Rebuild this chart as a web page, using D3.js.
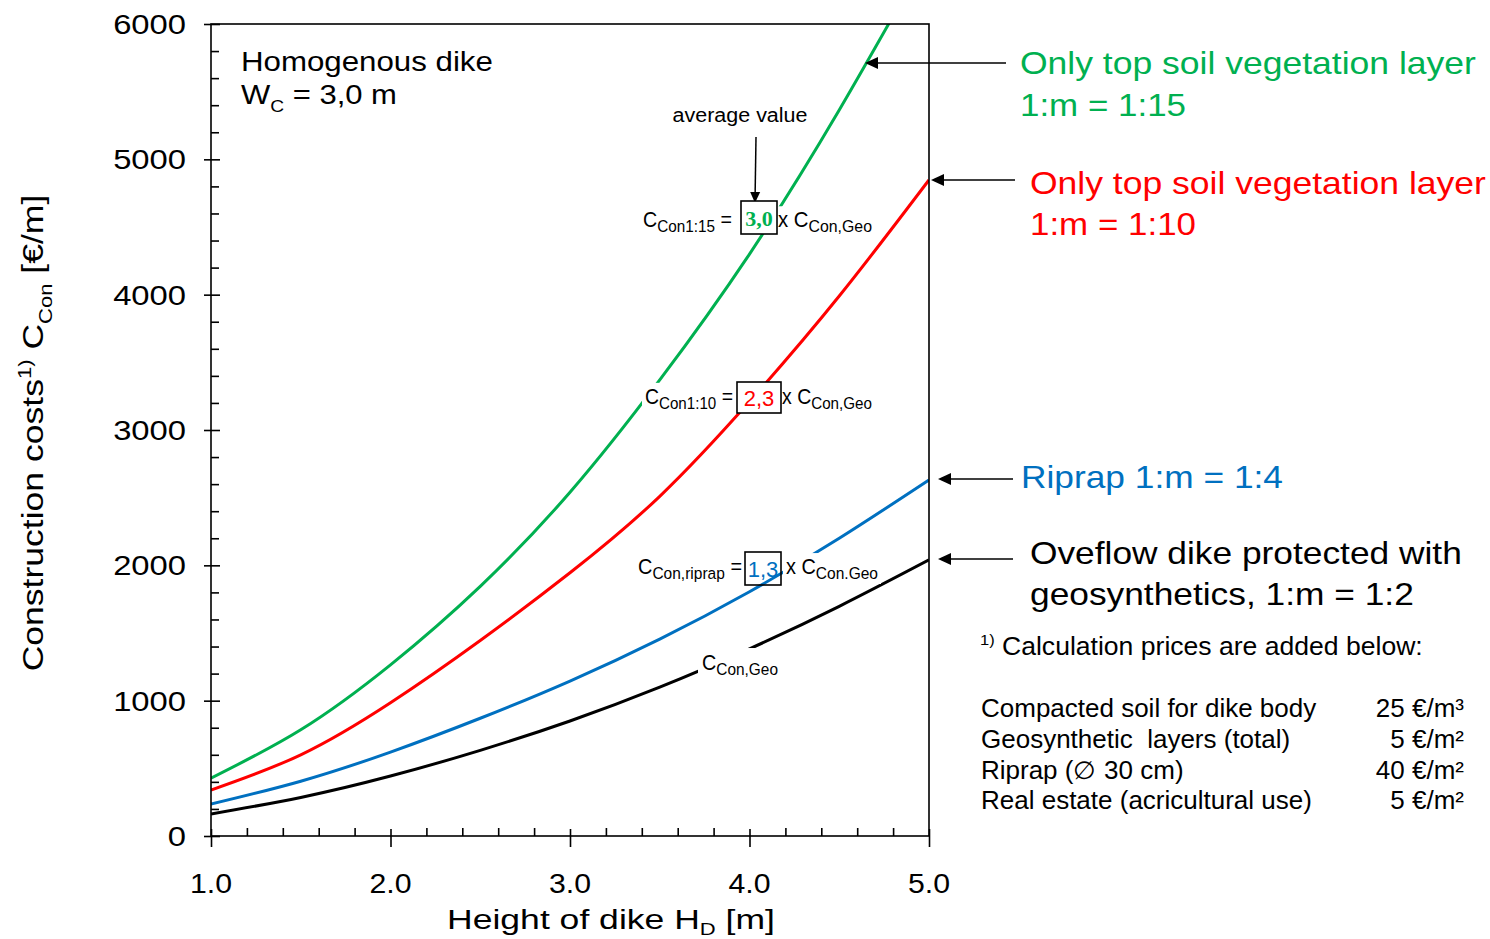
<!DOCTYPE html>
<html>
<head>
<meta charset="utf-8">
<script src="https://cdn.jsdelivr.net/npm/d3@7"></script>
<style>
  body { margin: 0; background: #fff; }
  svg { display: block; }
  text { font-family: "Liberation Sans", Arial, sans-serif; white-space: pre; }
</style>
</head>
<body>
<div id="chart"></div>
<script>
// Values
const heights    = [1.0, 1.5, 2.0, 2.5, 3.0, 3.5, 4.0, 4.5, 5.0];
const cost1to15  = [428, 785, 1265, 1845, 2540, 3370, 4300, 5365, 6530];
const cost1to10  = [340, 600, 985, 1445, 1945, 2510, 3210, 3990, 4848];
const costRiprap = [236, 405, 620, 870, 1145, 1455, 1805, 2200, 2631];
const costGeo    = [163, 285, 443, 633, 850, 1100, 1383, 1697, 2040];
const xTicks = [1, 2, 3, 4, 5];
const yTicks = [0, 1000, 2000, 3000, 4000, 5000, 6000];
const seriesColors = ["#00b050", "#ff0000", "#0070c0", "#000000"];
const factors = ["3,0", "2,3", "1,3"];
const priceItems  = ["Compacted soil for dike body", "Geosynthetic  layers (total)", "Riprap (\u2205 30 cm)", "Real estate (acricultural use)"];
const priceValues = ["25 \u20ac/m\u00b3", "5 \u20ac/m\u00b2", "40 \u20ac/m\u00b2", "5 \u20ac/m\u00b2"];

// Layout
const W = 1490, H = 939;
const margin = { top: 24, right: 561, bottom: 103, left: 211 };
const x = d3.scaleLinear().domain([1, 5]).range([margin.left, W - margin.right]);
const y = d3.scaleLinear().domain([0, 6000]).range([H - margin.bottom, margin.top]);

const svg = d3.select("#chart").append("svg")
  .attr("width", W).attr("height", H);

svg.append("defs").append("clipPath").attr("id", "plotClip")
  .append("rect")
  .attr("x", x(1)).attr("y", y(6000))
  .attr("width", x(5) - x(1)).attr("height", y(0) - y(6000));

// text helper: parts = [[string, "n"|"sub"|"sup"], ...]
function label(parent, px, py, parts, o) {
  const size = o.size;
  const t = parent.append("text")
    .attr("text-anchor", o.anchor || "start")
    .attr("fill", o.color || "#000")
    .style("font-size", size + "px");
  if (o.weight) t.style("font-weight", o.weight);
  if (o.family) t.style("font-family", o.family);
  let shift = 0;
  parts.forEach(([s, k]) => {
    const target = k === "sub" ? size * (o.subDy || 0.3) : k === "sup" ? -size * 0.4 : 0;
    t.append("tspan")
      .attr("dy", target - shift)
      .style("font-size", (k === "n" ? size : size * (o.subScale || 0.62)) + "px")
      .text(s);
    shift = target;
  });
  const bw = t.node().getBBox().width;
  const sx = o.width ? o.width / bw : (o.sx || 1);
  t.attr("transform", `translate(${px},${py})${o.rotate ? ` rotate(${o.rotate})` : ""} scale(${sx},1)`);
  return t;
}

// white patch behind a text (hides the curve there)
const bgG = svg.append("g");
function blank(textSel, pad) {
  const r = textSel.node().getBoundingClientRect();
  const s = svg.node().getBoundingClientRect();
  bgG.append("rect")
    .attr("x", r.left - s.left - pad).attr("y", r.top - s.top - pad + 2)
    .attr("width", r.width + 2 * pad).attr("height", r.height + 2 * pad - 3)
    .attr("fill", "#fff");
}

function arrow(g, x1, y1, x2, y2, len, half) {
  const dx = x2 - x1, dy = y2 - y1, d = Math.hypot(dx, dy);
  const ux = dx / d, uy = dy / d;
  const bx = x2 - ux * len, by = y2 - uy * len;
  g.append("line")
    .attr("x1", x1).attr("y1", y1).attr("x2", bx).attr("y2", by)
    .attr("stroke", "#000").attr("stroke-width", 1.5);
  g.append("path")
    .attr("d", `M${x2},${y2}L${bx - uy * half},${by + ux * half}L${bx + uy * half},${by - ux * half}Z`)
    .attr("fill", "#000");
}

// Curves
const series = [cost1to15, cost1to10, costRiprap, costGeo];
const line = d3.line()
  .x((d, i) => x(heights[i]))
  .y(d => y(d))
  .curve(d3.curveNatural);

const curveG = svg.insert("g", ":first-child").attr("clip-path", "url(#plotClip)");
curveG.selectAll("path")
  .data(series)
  .join("path")
  .attr("d", line)
  .attr("fill", "none")
  .attr("stroke", (d, i) => seriesColors[i])
  .attr("stroke-width", 3);

// Frame and axes
const axisG = svg.append("g").attr("stroke", "#000").attr("stroke-width", 1.6);
axisG.append("rect")
  .attr("x", x(1)).attr("y", y(6000))
  .attr("width", x(5) - x(1)).attr("height", y(0) - y(6000))
  .attr("fill", "none");

const yMinor = d3.range(0, 6001, 200).filter(v => v % 1000 !== 0);
const xMinor = d3.range(1, 5.001, 0.2).filter(v => Math.abs(v - Math.round(v)) > 1e-6);

function styleAxis(sel) {
  sel.select(".domain").remove();
  sel.selectAll("line").attr("stroke", "#000").attr("stroke-width", 1.6);
  sel.selectAll("text").remove();
}
svg.append("g").attr("transform", `translate(${x(1)},0)`)
  .call(d3.axisLeft(y).tickValues(yMinor).tickSize(-8)).call(styleAxis);
svg.append("g").attr("transform", `translate(${x(1)},0)`)
  .call(d3.axisLeft(y).tickValues(yTicks).tickSize(-9)).call(styleAxis);
svg.append("g").attr("transform", `translate(${x(1)},0)`)
  .call(d3.axisLeft(y).tickValues(yTicks).tickSize(7)).call(styleAxis);
svg.append("g").attr("transform", `translate(0,${y(0)})`)
  .call(d3.axisBottom(x).tickValues(xMinor).tickSize(-8)).call(styleAxis);
svg.append("g").attr("transform", `translate(0,${y(0)})`)
  .call(d3.axisBottom(x).tickValues(xTicks).tickSize(-7)).call(styleAxis);
svg.append("g").attr("transform", `translate(0,${y(0)})`)
  .call(d3.axisBottom(x).tickValues(xTicks).tickSize(11)).call(styleAxis);

const txt = svg.append("g");

// Tick labels
yTicks.forEach(v => label(txt, 186, y(v) + 10, [[String(v), "n"]], { size: 28, anchor: "end", sx: 1.17 }));
xTicks.forEach(v => label(txt, x(v), 893, [[d3.format(".1f")(v), "n"]], { size: 28, anchor: "middle", sx: 1.08 }));

// Axis titles
label(txt, 611, 929, [["Height of dike H", "n"], ["D", "sub"], [" [m]", "n"]],
  { size: 28, anchor: "middle", width: 328, subDy: 0.2 });
label(txt, 43, 433, [["Construction costs", "n"], ["1)", "sup"], [" C", "n"], ["Con", "sub"], [" [\u20ac/m]", "n"]],
  { size: 30, anchor: "middle", rotate: -90, width: 477 });

// Top-left note
label(txt, 241, 71, [["Homogenous dike", "n"]], { size: 28, width: 252 });
label(txt, 241, 104, [["W", "n"], ["C", "sub"], [" = 3,0 m", "n"]], { size: 28, width: 156 });

// Formula annotations
label(txt, 740, 122, [["average value", "n"]], { size: 20, anchor: "middle", width: 135 });
arrow(txt, 756, 137, 755, 203, 11, 5);

const fOpts = { size: 22, subScale: 0.78, subDy: 0.22 };
const formulas = [
  { lx: 643, by: 227, lw: 89, sub: "Con1:15", box: [741, 201, 36, 33], fill: "#fff", rx: 778, rw: 94, rsub: "Con,Geo", family: "Liberation Serif, serif" },
  { lx: 645, by: 404, lw: 88, sub: "Con1:10", box: [737, 382, 44, 31], fill: "#fff", rx: 782, rw: 90, rsub: "Con,Geo" },
  { lx: 638, by: 574, lw: 104, sub: "Con,riprap", box: [745, 552, 36, 33], fill: "none", rx: 786, rw: 92, rsub: "Con.Geo" }
];
formulas.forEach((f, i) => {
  const lt = label(txt, f.lx, f.by, [["C", "n"], [f.sub, "sub"], [" =", "n"]], Object.assign({ width: f.lw }, fOpts));
  blank(lt, 3);
  txt.append("rect")
    .attr("x", f.box[0]).attr("y", f.box[1]).attr("width", f.box[2]).attr("height", f.box[3])
    .attr("fill", f.fill).attr("stroke", "#000").attr("stroke-width", 1.6);
  label(txt, f.box[0] + f.box[2] / 2, f.box[1] + f.box[3] / 2 + 8, [[factors[i], "n"]],
    { size: 22, anchor: "middle", color: seriesColors[i], weight: i === 0 ? "bold" : "normal", family: f.family });
  const rt = label(txt, f.rx, f.by, [["x C", "n"], [f.rsub, "sub"]], Object.assign({ width: f.rw }, fOpts));
  blank(rt, 3);
});
const geoLbl = label(txt, 702, 670, [["C", "n"], ["Con,Geo", "sub"]], Object.assign({ width: 76 }, fOpts));
blank(geoLbl, 4);

// Right-hand labels with arrows
const rl = { size: 31 };
label(txt, 1020, 74, [["Only top soil vegetation layer", "n"]], Object.assign({ width: 456, color: seriesColors[0] }, rl));
label(txt, 1020, 116, [["1:m = 1:15", "n"]], Object.assign({ width: 166, color: seriesColors[0] }, rl));
label(txt, 1030, 194, [["Only top soil vegetation layer", "n"]], Object.assign({ width: 456, color: seriesColors[1] }, rl));
label(txt, 1030, 235, [["1:m = 1:10", "n"]], Object.assign({ width: 166, color: seriesColors[1] }, rl));
label(txt, 1021, 488, [["Riprap 1:m = 1:4", "n"]], Object.assign({ width: 262, color: seriesColors[2] }, rl));
label(txt, 1030, 564, [["Oveflow dike protected with", "n"]], Object.assign({ width: 432 }, rl));
label(txt, 1030, 605, [["geosynthetics, 1:m = 1:2", "n"]], Object.assign({ width: 384 }, rl));

arrow(txt, 1006, 63, 865, 63, 13, 6);
arrow(txt, 1015, 180, x(5) + 2, y(cost1to10[8]), 13, 6);
arrow(txt, 1013, y(costRiprap[8]) - 1, x(5) + 9, y(costRiprap[8]) - 1, 13, 6);
arrow(txt, 1013, y(costGeo[8]) - 1, x(5) + 9, y(costGeo[8]) - 1, 13, 6);

// Footnote and prices
label(txt, 980, 655, [["1)", "sup"], [" Calculation prices are added below:", "n"]], { size: 25, subScale: 0.62, width: 443 });
priceItems.forEach((s, i) => {
  const by = [717, 748, 779, 809][i];
  label(txt, 981, by, [[s, "n"]], { size: 25, sx: 1.04 });
  label(txt, 1464, by, [[priceValues[i], "n"]], { size: 25, anchor: "end", sx: 1.04 });
});
</script>
</body>
</html>
